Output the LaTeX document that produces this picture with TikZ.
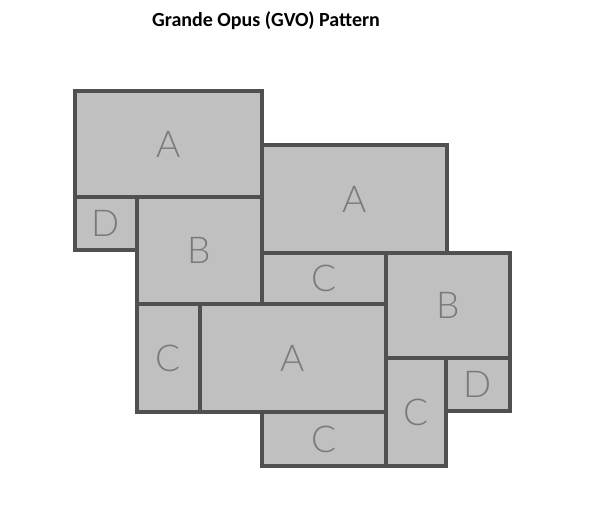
\documentclass[tikz,border=0pt]{standalone}
\usepackage{fontspec}
\setmainfont{Carlito}
\newfontfamily\tilefont{Lato Light}
\usetikzlibrary{fit}
\definecolor{tileline}{HTML}{505050}
\definecolor{tilefill}{HTML}{C0C0C0}
\definecolor{tiletext}{HTML}{7A7A7A}
\begin{document}
\begin{tikzpicture}[x=1pt,y=-1pt,
  tile/.style={draw=tileline, fill=tilefill, line width=3.5pt, inner sep=0pt,
    line join=miter},
  letter/.style={text=tiletext, inner sep=0pt, font=\tilefont\fontsize{37}{37}\selectfont},
  title/.style={font=\bfseries\fontsize{20}{20}\selectfont}]
\useasboundingbox (0,0) rectangle (600,515);
\node[title] (t) at (266,21) {Grande Opus (GVO) Pattern};
\node[tile, fit={(75,91) (262,197)}, label={[letter]center:A}] (a1) {};
\node[tile, fit={(75,197) (137,250)}, label={[letter]center:D}] (d1) {};
\node[tile, fit={(137,197) (262,304)}, label={[letter]center:B}] (b1) {};
\node[tile, fit={(262,145) (447,253)}, label={[letter]center:A}] (a2) {};
\node[tile, fit={(262,253) (386,304)}, label={[letter]center:C}] (c1) {};
\node[tile, fit={(386,253) (510,358)}, label={[letter]center:B}] (b2) {};
\node[tile, fit={(137,304) (200,412)}, label={[letter]center:C}] (c2) {};
\node[tile, fit={(200,304) (386,412)}, label={[letter]center:A}] (a3) {};
\node[tile, fit={(262,412) (386,466)}, label={[letter]center:C}] (c3) {};
\node[tile, fit={(386,358) (446,466)}, label={[letter]center:C}] (c4) {};
\node[tile, fit={(446,358) (510,411)}, label={[letter]center:D}] (d2) {};
\end{tikzpicture}
\end{document}
